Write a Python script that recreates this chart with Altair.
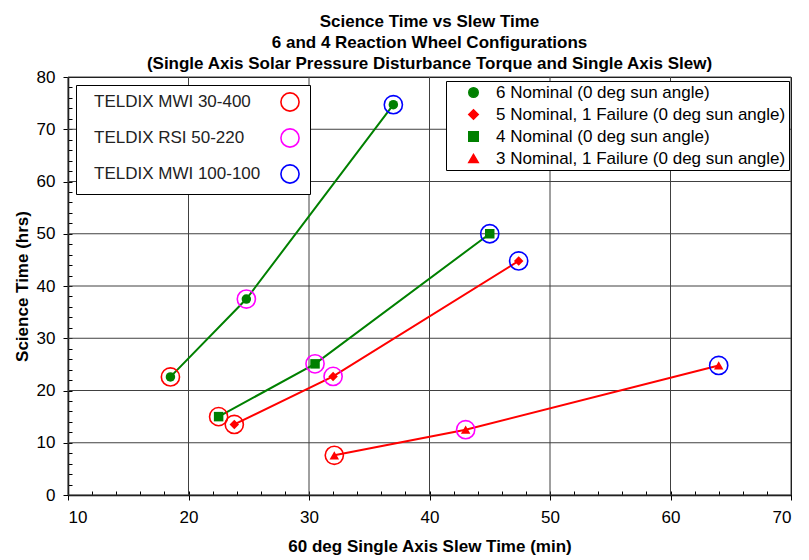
import altair as alt
import pandas as pd

series_names = [
    "6 Nominal (0 deg sun angle)",
    "5 Nominal, 1 Failure (0 deg sun angle)",
    "4 Nominal (0 deg sun angle)",
    "3 Nominal, 1 Failure (0 deg sun angle)",
]
series_colors = ["#008000", "#FF0000", "#008000", "#FF0000"]
series_shapes = ["circle", "diamond", "square", "triangle-up"]

slew_6 = [18.5, 24.8, 37.0]
sci_6 = [22.6, 37.5, 74.7]
slew_5 = [23.8, 32.0, 47.4]
sci_5 = [13.5, 22.7, 44.8]
slew_4 = [22.5, 30.5, 45.0]
sci_4 = [15.0, 25.1, 50.0]
slew_3 = [32.1, 43.0, 64.0]
sci_3 = [7.6, 12.5, 24.8]

wheel_names = ["TELDIX MWI 30-400", "TELDIX RSI 50-220", "TELDIX MWI 100-100"]
wheel_colors = ["#FF0000", "#FF00FF", "#0000FF"]

x_major = [10, 20, 30, 40, 50, 60, 70]
y_major = [0, 10, 20, 30, 40, 50, 60, 70, 80]
x_minor = list(range(10, 71, 2))
y_minor = list(range(0, 81, 2))

rows = []
for name, xs_, ys_ in zip(series_names, [slew_6, slew_5, slew_4, slew_3], [sci_6, sci_5, sci_4, sci_3]):
    for i, (x, y) in enumerate(zip(xs_, ys_)):
        rows.append({"series": name, "slew": x, "sci": y, "wheel": wheel_names[i], "order": i})
df = pd.DataFrame(rows)

FONT = "Liberation Sans"
xs = alt.Scale(domain=[10, 70], nice=False, zero=False)
ys = alt.Scale(domain=[0, 80], nice=False)

GRID = "#404040"

xgrid = alt.Chart(pd.DataFrame({"slew": x_major})).mark_rule(color=GRID, strokeWidth=1).encode(
    x=alt.X("slew:Q", scale=xs, axis=None)
)
ygrid = alt.Chart(pd.DataFrame({"sci": y_major})).mark_rule(color=GRID, strokeWidth=1).encode(
    y=alt.Y("sci:Q", scale=ys, axis=None)
)

base = alt.Chart(df)

series_legend = alt.Legend(
    title=None,
    orient="none",
    legendX=378,
    legendY=4,
    fillColor="white",
    strokeColor="black",
    padding=3,
    labelFontSize=17,
    labelFont=FONT,
    labelColor="black",
    symbolSize=90,
    symbolOffset=16,
    labelOffset=14,
    rowPadding=4,
    labelLimit=400,
)
color_enc = alt.Color(
    "series:N",
    scale=alt.Scale(domain=series_names, range=series_colors),
    legend=series_legend,
)

lines = base.mark_line(strokeWidth=2).encode(
    x=alt.X(
        "slew:Q",
        scale=xs,
        axis=alt.Axis(
            title="60 deg Single Axis Slew Time (min)",
            values=x_major,
            orient="bottom",
            grid=False,
            tickSize=5,
            labelPadding=9,
            titlePadding=13,
            labelOverlap=False,
        ),
    ),
    y=alt.Y(
        "sci:Q",
        scale=ys,
        axis=alt.Axis(
            title="Science Time (hrs)",
            values=y_major,
            orient="left",
            grid=False,
            tickSize=5,
            labelPadding=8,
            titlePadding=5,
            labelOverlap=False,
        ),
    ),
    detail="series:N",
    color=color_enc,
    order="order:Q",
)

minor = base.mark_point(opacity=0).encode(
    x=alt.X(
        "slew:Q",
        scale=xs,
        axis=alt.Axis(
            title=None, values=x_minor, orient="bottom", labels=False, grid=False,
            domain=False, tickSize=4, offset=-4,
        ),
    ),
    y=alt.Y(
        "sci:Q",
        scale=ys,
        axis=alt.Axis(
            title=None, values=y_minor, orient="left", labels=False, grid=False,
            domain=False, tickSize=4, offset=-4,
        ),
    ),
)

points = base.mark_point(filled=True, opacity=1, size=90).encode(
    x=alt.X("slew:Q", scale=xs, axis=None),
    y=alt.Y("sci:Q", scale=ys, axis=None),
    color=color_enc,
    shape=alt.Shape("series:N", scale=alt.Scale(domain=series_names, range=series_shapes)),
)

rings = base.mark_point(filled=False, size=330, strokeWidth=1.6, opacity=1).encode(
    x=alt.X("slew:Q", scale=xs, axis=None),
    y=alt.Y("sci:Q", scale=ys, axis=None),
    stroke=alt.Stroke(
        "wheel:N",
        scale=alt.Scale(domain=wheel_names, range=wheel_colors),
        legend=alt.Legend(
            title=None,
            orient="none",
            legendX=8,
            legendY=8,
            fillColor="white",
            strokeColor="black",
            padding=7,
            labelFontSize=17,
            labelFont=FONT,
            labelColor="#222222",
            symbolType="circle",
            symbolSize=330,
            symbolStrokeWidth=1.6,
            symbolFillColor="transparent",
            symbolOffset=197,
            labelOffset={"expr": "-206"},
            rowPadding=10,
            labelLimit=400,
        ),
    ),
)

chart = (
    alt.layer(xgrid, ygrid, lines, minor, points, rings)
    .resolve_axis(x="independent", y="independent")
    .properties(
        width=723,
        height=418,
        title=alt.Title(
            [
                "Science Time vs Slew Time",
                "6 and 4 Reaction Wheel Configurations",
                "(Single Axis Solar Pressure Disturbance Torque and Single Axis Slew)",
            ],
            font=FONT,
            fontSize=17,
            fontWeight="bold",
            color="black",
            lineHeight=21,
            anchor="middle",
            offset={"expr": "-5"},
        ),
    )
    .configure_view(stroke="black", strokeWidth=1)
    .configure_axis(
        labelFont=FONT,
        labelFontSize=17,
        labelColor="black",
        titleFont=FONT,
        titleFontSize=17,
        titleFontWeight="bold",
        titleColor="black",
        domainColor="black",
        domainWidth=1.5,
        tickColor="black",
    )
)

chart.save("out.html", embed_options={"renderer": "svg", "actions": False})
